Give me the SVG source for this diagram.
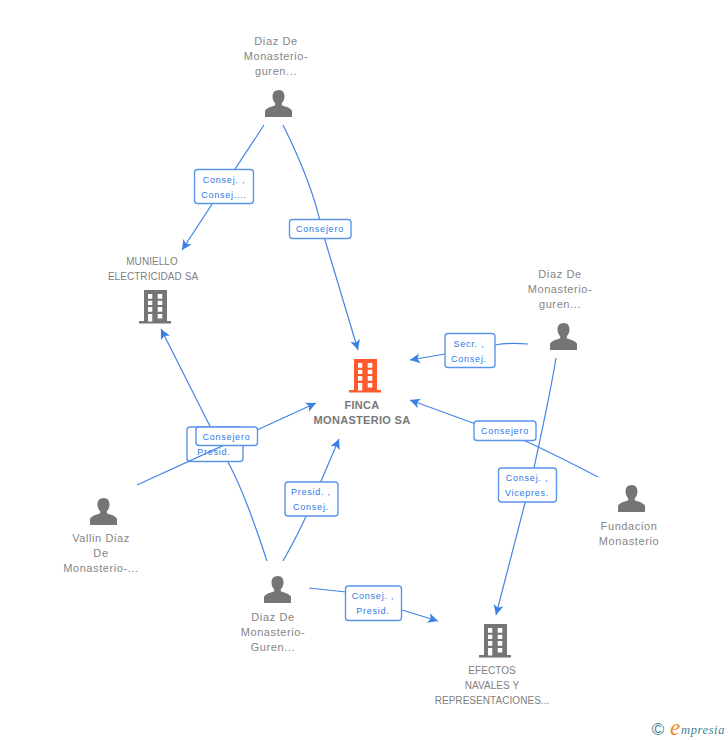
<svg xmlns="http://www.w3.org/2000/svg" xmlns:xlink="http://www.w3.org/1999/xlink" width="728" height="740" viewBox="0 0 728 740">
<style>
text{font-family:"Liberation Sans",Arial,sans-serif}
.n{font-size:11px;fill:#858585;text-anchor:middle;letter-spacing:.6px}
.u{font-size:10px;fill:#808080;text-anchor:middle;letter-spacing:.05px}
.c{font-size:11px;font-weight:bold;fill:#787878;text-anchor:middle;letter-spacing:.3px}
.l{font-size:9px;fill:#2f78e6;text-anchor:middle;letter-spacing:.75px}
.b{fill:#fff;stroke:#5b95ea;stroke-width:1.4}
.k{fill:none;stroke:#4285e4;stroke-width:1.2;marker-end:url(#a)}
</style>
<defs>
<marker id="a" markerUnits="userSpaceOnUse" markerWidth="12" markerHeight="12" refX="10" refY="6" orient="auto" viewBox="0 0 12 12"><path d="M0,1 L10,6 L0,11 L2.500,6 Z" fill="#3a80e4"/></marker>
<symbol id="p" width="28" height="28" viewBox="0 0 28 28" overflow="visible"><path d="M14,0 C17.500,0 19.500,2.800 19.500,6.500 C19.500,9.500 18.200,12 16.800,13.300 L16.800,15.300 C19.500,16.500 26,17.800 27,21 L27,27 L0,27 L0,21 C1,17.800 7.500,16.500 10.200,15.300 L10.200,13.300 C8.800,12 7.500,9.500 7.500,6.500 C7.500,2.800 9.500,0 14,0 Z" fill="#757575"/></symbol>
<symbol id="o" width="32" height="34" viewBox="0 0 32 34" overflow="visible"><path fill-rule="evenodd" d="M5,0 H28 V31 H32 V33.500 H0 V31 H5 Z M9,4 V8.700 H13.300 V4 Z M18.700,4 V8.700 H23.300 V4 Z M9,10.700 V15 H13.300 V10.700 Z M18.700,10.700 V15 H23.300 V10.700 Z M9,17 V21.700 H13.300 V17 Z M18.700,17 V21.700 H23.300 V17 Z M9,24 V31.500 H13.300 V24 Z M18.700,24 V28.500 H23.300 V24 Z"/></symbol>
</defs>
<rect width="728" height="740" fill="#fff"/>
<g id="connectors-under">
<path class="k" d="M267,561 C255,525 243,490 228,462 L161,329"/>
</g>
<g id="label-3"><rect class="b" x="187" y="427" width="56" height="34.500" rx="3"/><text class="l" x="214" y="455">Presid.</text></g>
<g id="connectors">
<path class="k" d="M264,125 L182,250"/>
<path class="k" d="M283,125 C302,163 315,195 322,230 L358,350"/>
<path class="k" d="M137,485 L316,403"/>
<path class="k" d="M283,561 C295,540 305,520 313,500 L339,439"/>
<path class="k" d="M528,344 C515,343 505,343 495,345 L445,354 L410,360"/>
<path class="k" d="M598,477 C575,465 550,452 523,440 L473,423 L410,400"/>
<path class="k" d="M556,358 C550,395 541,435 534,468 L525,503 L496,615"/>
<path class="k" d="M309,588 L346,592 L402,610 L438,621"/>
</g>
<g id="label-1"><rect class="b" x="194.500" y="169.500" width="59" height="34" rx="3"/><text class="l" x="224" y="183">Consej. ,</text><text class="l" x="224" y="198">Consej....</text></g>
<g id="label-2"><rect class="b" x="289.500" y="219.500" width="61.500" height="19" rx="3"/><text class="l" x="320" y="232">Consejero</text></g>
<g id="label-4"><rect class="b" x="196" y="427" width="61.500" height="18.500" rx="3"/><text class="l" x="226.500" y="440">Consejero</text></g>
<g id="label-5"><rect class="b" x="285" y="482" width="53" height="34" rx="3"/><text class="l" x="311" y="495">Presid. ,</text><text class="l" x="311" y="510">Consej.</text></g>
<g id="label-6"><rect class="b" x="445" y="333.500" width="50" height="34" rx="3"/><text class="l" x="469" y="347">Secr. ,</text><text class="l" x="469" y="362">Consej.</text></g>
<g id="label-7"><rect class="b" x="474" y="421" width="62" height="19.500" rx="3"/><text class="l" x="505" y="434">Consejero</text></g>
<g id="label-8"><rect class="b" x="498.500" y="468" width="58" height="34" rx="3"/><text class="l" x="527" y="481">Consej. ,</text><text class="l" x="527" y="496">Vicepres.</text></g>
<g id="label-9"><rect class="b" x="345.500" y="586" width="56" height="34.500" rx="3"/><text class="l" x="373" y="599">Consej. ,</text><text class="l" x="373" y="614">Presid.</text></g>
<g id="node-top"><text class="n" x="276" y="45">Diaz De</text><text class="n" x="276" y="60">Monasterio-</text><text class="n" x="276" y="75">guren...</text><use xlink:href="#p" x="265" y="90"/></g>
<g id="node-muniello"><text class="u" x="152" y="265">MUNIELLO</text><text class="u" x="153" y="280">ELECTRICIDAD SA</text><use xlink:href="#o" x="139" y="290" fill="#757575"/></g>
<g id="node-finca"><use xlink:href="#o" x="349" y="359" fill="#ff5a2c"/><text class="c" x="362" y="409">FINCA</text><text class="c" x="362" y="424">MONASTERIO SA</text></g>
<g id="node-right"><text class="n" x="560" y="278">Diaz De</text><text class="n" x="560" y="293">Monasterio-</text><text class="n" x="560" y="308">guren...</text><use xlink:href="#p" x="550" y="323"/></g>
<g id="node-fundacion"><use xlink:href="#p" x="618" y="485"/><text class="n" x="629" y="530">Fundacion</text><text class="n" x="629" y="545">Monasterio</text></g>
<g id="node-vallin"><use xlink:href="#p" x="90" y="498"/><text class="n" x="101" y="542">Vallin Diaz</text><text class="n" x="101" y="557">De</text><text class="n" x="101" y="572">Monasterio-...</text></g>
<g id="node-bottom"><use xlink:href="#p" x="264" y="576"/><text class="n" x="273" y="621">Diaz De</text><text class="n" x="273" y="636">Monasterio-</text><text class="n" x="273" y="651">Guren...</text></g>
<g id="node-efectos"><use xlink:href="#o" x="479" y="624" fill="#757575"/><text class="u" x="492" y="674">EFECTOS</text><text class="u" x="492" y="689">NAVALES Y</text><text class="u" x="492" y="704">REPRESENTACIONES...</text></g>
<g id="logo"><text x="658" y="735" font-size="17" fill="#3f7f92" text-anchor="middle">©</text><text x="670" y="735" font-size="23" font-style="italic" fill="#f08a24" style="font-family:'Liberation Serif',serif">e</text><text x="681" y="734" font-size="12.500" font-style="italic" fill="#3f7f92" style="font-family:'Liberation Serif',serif;letter-spacing:.6px">mpresia</text></g>
</svg>
